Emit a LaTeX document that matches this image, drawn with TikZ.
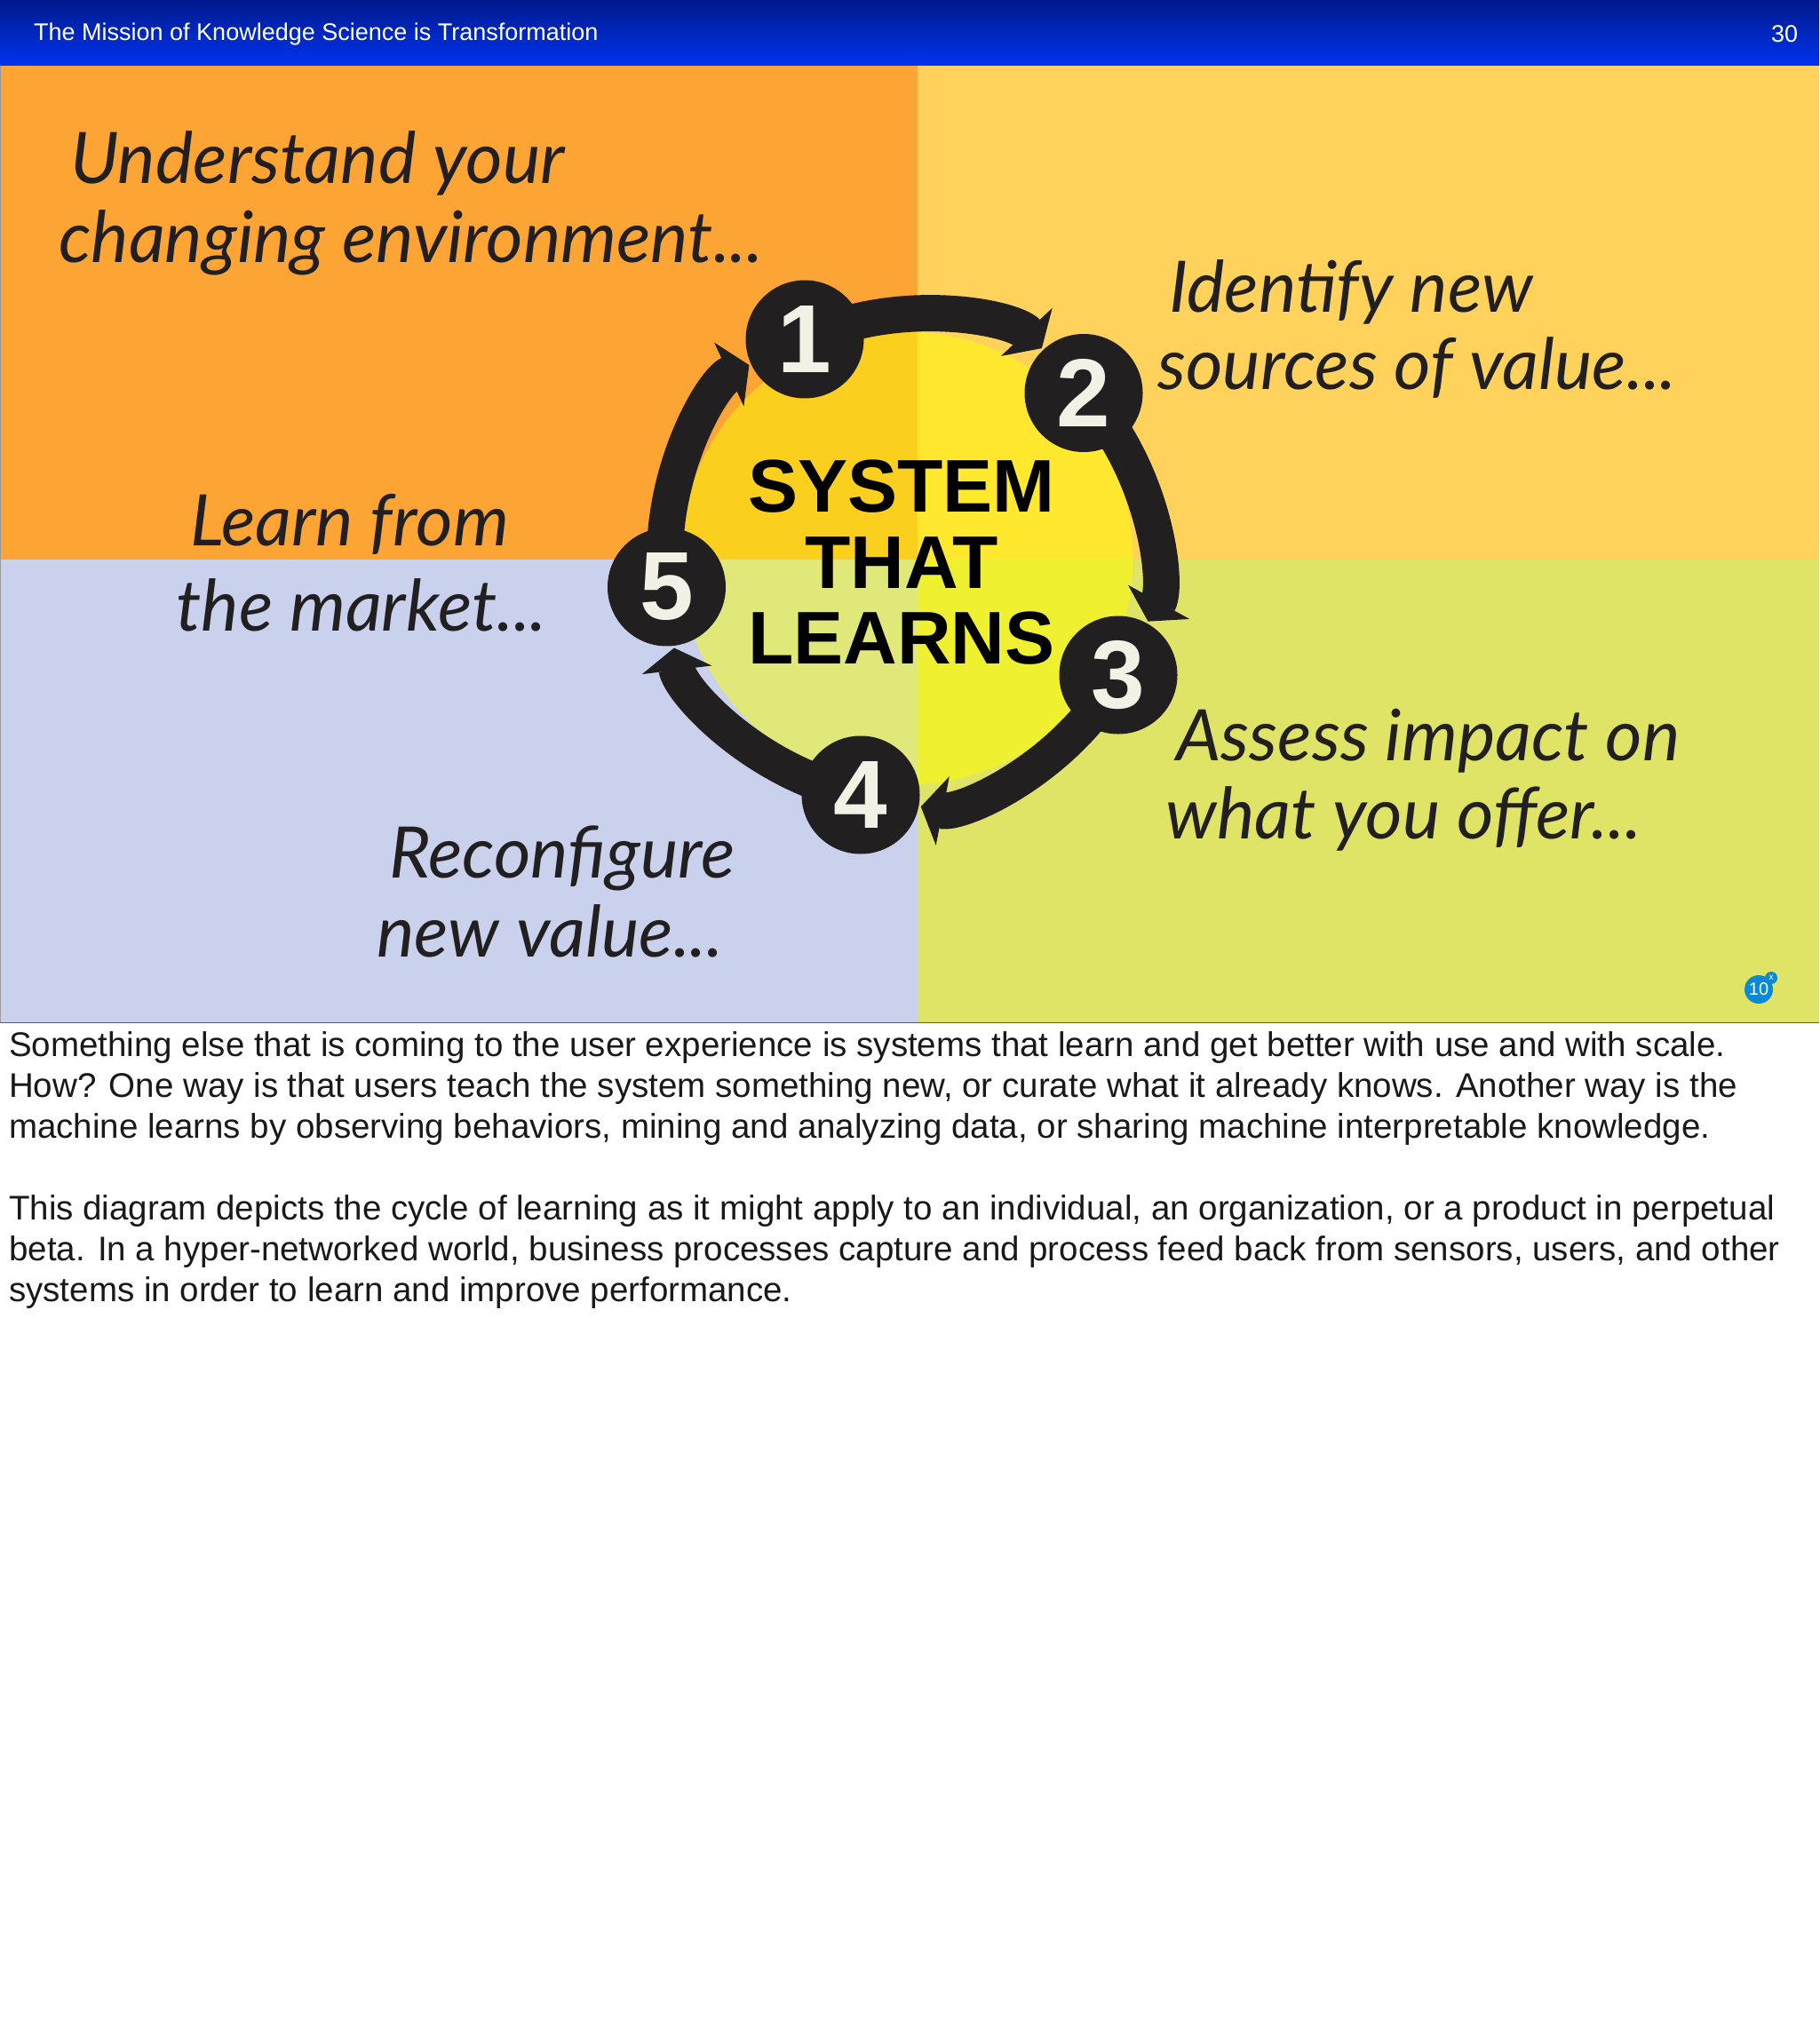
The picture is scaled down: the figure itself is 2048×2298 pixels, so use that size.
\documentclass[tikz,border=0pt]{standalone}
\usepackage{fontspec}
\setmainfont{Liberation Sans}
\newfontfamily\latofont{Lato}
\usetikzlibrary{arrows.meta,shapes.geometric}
\pgfdeclarelayer{bg}\pgfdeclarelayer{arcs}\pgfsetlayers{bg,arcs,main}
\definecolor{qorange}{HTML}{FCA534}
\definecolor{qyellow}{HTML}{FFD25C}
\definecolor{qblue}{HTML}{C9D1EC}
\definecolor{qgreen}{HTML}{E0E466}
\definecolor{dorange}{HTML}{FBCF1E}
\definecolor{dyellow}{HTML}{FFE82E}
\definecolor{dblue}{HTML}{E0E87A}
\definecolor{dgreen}{HTML}{EEF030}
\definecolor{ink}{HTML}{221F20}
\definecolor{cream}{HTML}{F3F1E6}
\definecolor{hdtop}{HTML}{001A8C}
\definecolor{hdbot}{HTML}{0033F0}
\definecolor{badge}{HTML}{0A8AD4}
\tikzset{
  numnode/.style={circle,fill=ink,minimum size=133pt,inner sep=0pt,outer sep=0pt,text=cream,font=\fontsize{109}{109}\selectfont\bfseries},
  ringarrow/.style={draw=ink,line width=41pt,line cap=butt,-{Triangle[length=25pt,width=78pt]},shorten >=69pt,bend left=36,looseness=.94},
  quote/.style={anchor=base west,inner sep=0pt,text=ink,font=\fontsize{80}{80}\selectfont\latofont\itshape},
  body/.style={anchor=base west,inner sep=0pt,text=black!90,font=\fontsize{38.5}{38.5}\selectfont},
  head/.style={anchor=base,inner sep=0pt,text=white,font=\fontsize{27}{27}\selectfont},
  center/.style={anchor=base,inner sep=0pt,text=black,font=\fontsize{84}{84}\selectfont\bfseries},
}
\begin{document}
\begin{tikzpicture}[x=1pt,y=-1pt]
\useasboundingbox (0,0) rectangle (2048,2298);
\begin{pgfonlayer}{bg}
\fill[white] (0,0) rectangle (2048,2298);
\shade[top color=hdtop,bottom color=hdbot] (0,0) rectangle (2048,74);
\fill[qorange] (0,74) rectangle (1033,630);
\fill[qyellow] (1033,74) rectangle (2048,630);
\fill[qblue] (0,630) rectangle (1033,1151);
\fill[qgreen] (1033,630) rectangle (2048,1151);
\draw[line width=1.5pt,black!65] (0,1151.5) -- (2048,1151.5);
\draw[line width=1pt,black!40] (0.5,74) -- (0.5,1151);
\begin{scope}
\clip (1020.5,628.5) circle[radius=255pt];
\fill[dorange] (760,370) rectangle (1033,630);
\fill[dyellow] (1033,370) rectangle (1280,630);
\fill[dblue] (760,630) rectangle (1033,890);
\fill[dgreen] (1033,630) rectangle (1280,890);
\end{scope}
\end{pgfonlayer}

\node[head,anchor=base west] (title) at (38,46) {The Mission of Knowledge Science is Transformation};
\node[head] (pageno) at (2009,48) {30};

\node[quote] (q1a) at (79,207) {Understand your};
\node[quote] (q1b) at (66,296) {changing environment...};
\node[quote] (q2a) at (1316,352) {Identify new};
\node[quote] (q2b) at (1303,438) {sources of value...};
\node[quote] (q3a) at (1324,856) {Assess impact on};
\node[quote] (q3b) at (1312,944) {what you offer...};
\node[quote] (q4a) at (438,988) {Reconfigure};
\node[quote] (q4b) at (424,1077) {new value...};
\node[quote] (q5a) at (214,614) {Learn from};
\node[quote] (q5b) at (198,710) {the market...};

\node[numnode] (n1) at (906,382) {1};
\node[numnode] (n2) at (1220,442.5) {2};
\node[numnode] (n3) at (1259,760) {3};
\node[numnode] (n4) at (969,895) {4};
\node[numnode] (n5) at (750.5,661) {5};

\begin{pgfonlayer}{arcs}
\draw[ringarrow] (n1.center) to (n2.center);
\draw[ringarrow] (n2.center) to (n3.center);
\draw[ringarrow] (n3.center) to (n4.center);
\draw[ringarrow] (n4.center) to (n5.center);
\draw[ringarrow] (n5.center) to (n1.center);
\end{pgfonlayer}

\node[center] (c1) at (1015,576) {SYSTEM};
\node[center] (c2) at (1015,662) {THAT};
\node[center] (c3) at (1015,747) {LEARNS};

\node[circle,fill=badge,minimum size=32pt,inner sep=0pt,text=white!90,font=\fontsize{20}{20}\selectfont] (b1) at (1980,1114) {10};
\node[circle,fill=badge,minimum size=14pt,inner sep=0pt,text=white,font=\fontsize{10}{10}\selectfont] (b2) at (1994,1101) {x};

\node[body] (t1) at (10,1189) {Something else that is coming to the user experience is systems that learn and get better with use and with scale.};
\node[body] (t2) at (10,1235) {How? One way is that users teach the system something new, or curate what it already knows. Another way is the};
\node[body] (t3) at (10,1281) {machine learns by observing behaviors, mining and analyzing data, or sharing machine interpretable knowledge.};
\node[body] (t4) at (10,1373) {This diagram depicts the cycle of learning as it might apply to an individual, an organization, or a product in perpetual};
\node[body] (t5) at (10,1419) {beta. In a hyper-networked world, business processes capture and process feed back from sensors, users, and other};
\node[body] (t6) at (10,1465) {systems in order to learn and improve performance.};
\end{tikzpicture}
\end{document}
